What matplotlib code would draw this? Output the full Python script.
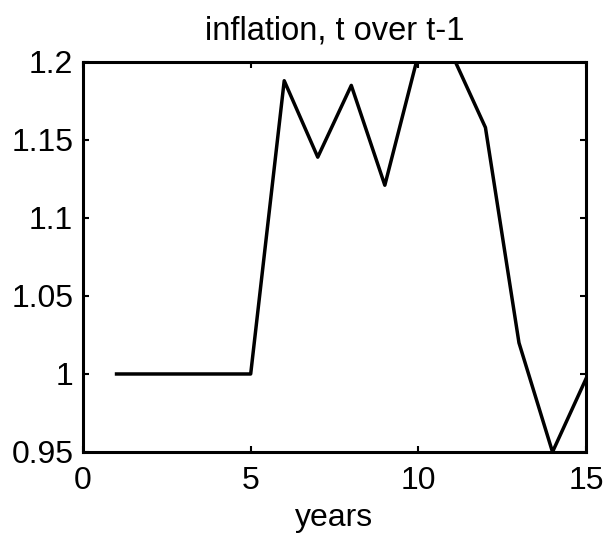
import matplotlib
matplotlib.use("Agg")
import matplotlib.pyplot as plt

# inflation ratio, year t over year t-1 (values above 1.2 get clipped by the axes)
years = [1, 2, 3, 4, 5, 6, 7, 8, 9, 10, 11, 12, 13, 14, 15]
inflation = [1.0, 1.0, 1.0, 1.0, 1.0, 1.188, 1.139, 1.185, 1.121, 1.205, 1.205,
             1.158, 1.02, 0.95, 0.997]

x_ticks = [0, 5, 10, 15]
y_ticks = [0.95, 1.0, 1.05, 1.1, 1.15, 1.2]
y_tick_labels = ["0.95", "1", "1.05", "1.1", "1.15", "1.2"]

plt.rcParams.update({
    "font.family": ["Liberation Sans", "DejaVu Sans"],
    "font.size": 23,
})

fig = plt.figure(figsize=(6.09, 5.34), dpi=100)
ax = fig.add_axes([0.1363, 0.1536, 0.826, 0.7303])

ax.plot(years, inflation, color="black", lw=2.5)

ax.set_xlim(0, 15)
ax.set_ylim(0.95, 1.2)
ax.set_xticks(x_ticks)
ax.set_yticks(y_ticks)
ax.set_yticklabels(y_tick_labels)
ax.tick_params(direction="in", top=True, right=True, length=4, width=1.5,
               labelsize=23)
ax.tick_params(axis="x", pad=10)
ax.tick_params(axis="y", pad=7)
for s in ax.spines.values():
    s.set_linewidth(2.2)

ax.set_title("inflation, t over t-1", fontsize=23.5, pad=16)
ax.set_xlabel("years", fontsize=23, labelpad=5)

fig.savefig("out.png", dpi=100, facecolor="white")
